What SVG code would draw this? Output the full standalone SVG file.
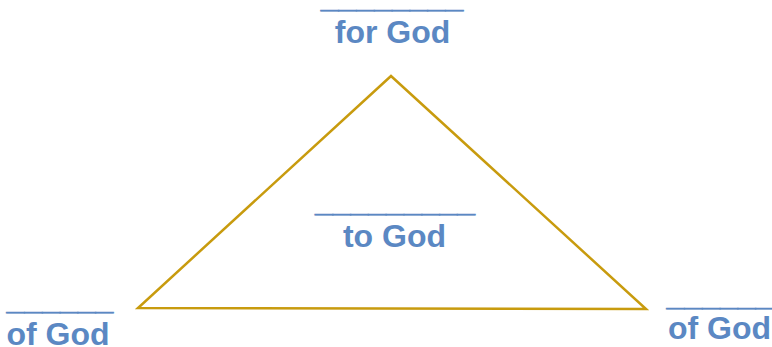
<svg xmlns="http://www.w3.org/2000/svg" width="772" height="347" viewBox="0 0 772 347">
<style>
.t{font-family:"Liberation Sans",Arial,sans-serif;font-weight:bold;font-size:32px;fill:#5b88c3;text-anchor:middle}
.u{stroke:#5b88c3;stroke-width:0.7}
.tri{fill:none;stroke:#c89b0e;stroke-width:2.5;stroke-linejoin:miter}
</style>
<rect width="772" height="347" fill="#ffffff"/>
<g id="triangle"><polygon class="tri" points="391,76 138,308 646,309"/></g>
<g id="top"><text class="t u" x="392" y="7">________</text><text class="t" x="392.5" y="43">for God</text></g>
<g id="center"><text class="t u" x="395" y="211">_________</text><text class="t" x="394.5" y="247">to God</text></g>
<g id="left"><text class="t u" x="60" y="309">______</text><text class="t" x="58" y="345">of God</text></g>
<g id="right"><text class="t u" x="720" y="305">______</text><text class="t" x="719.5" y="339">of God</text></g>
</svg>
